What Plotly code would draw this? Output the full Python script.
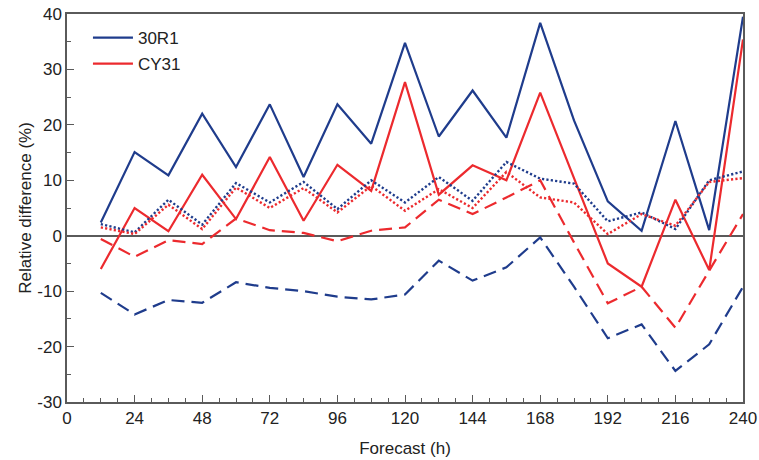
import plotly.graph_objects as go

hours = [12, 24, 36, 48, 60, 72, 84, 96, 108, 120, 132, 144, 156, 168, 180, 192, 204, 216, 228, 240]

r30_solid = [2.4, 15.1, 10.9, 22.0, 12.4, 23.7, 10.6, 23.7, 16.6, 34.8, 17.9, 26.2, 17.7, 38.4, 20.8, 6.2, 0.9, 20.7, 1.0, 39.5]
cy31_solid = [-6.0, 5.0, 0.8, 11.0, 3.0, 14.2, 2.7, 12.8, 8.1, 27.7, 7.4, 12.7, 10.0, 25.8, 10.4, -5.0, -9.2, 6.5, -6.2, 35.4]
r30_dot = [2.1, 0.6, 6.5, 2.0, 9.5, 6.0, 9.7, 4.8, 10.0, 6.0, 10.6, 6.3, 13.3, 10.3, 9.4, 2.6, 4.2, 1.2, 10.0, 11.6]
cy31_dot = [1.5, 0.3, 5.6, 1.2, 8.7, 5.0, 8.6, 4.2, 9.0, 4.5, 8.4, 5.0, 11.5, 6.9, 6.0, 0.3, 3.9, 1.8, 9.7, 10.4]
r30_dash = [-10.3, -14.2, -11.6, -12.1, -8.4, -9.4, -10.0, -11.0, -11.5, -10.6, -4.5, -8.1, -5.7, -0.3, -9.2, -18.5, -16.0, -24.4, -19.6, -9.2]
cy31_dash = [-0.6, -3.8, -0.8, -1.5, 3.1, 1.0, 0.5, -1.0, 0.9, 1.5, 6.5, 3.9, 6.9, 10.0, -1.2, -12.2, -9.2, -16.6, -6.3, 3.9]

x_ticks = [0, 24, 48, 72, 96, 120, 144, 168, 192, 216, 240]
y_ticks = [-30, -20, -10, 0, 10, 20, 30, 40]

BLUE = "#1f3c8c"
RED = "#ec2a2e"
REG = "Liberation Sans, Arial, sans-serif"
DASH = "13px,7px"
DOT = "2.2px,2.2px"

fig = go.Figure()
fig.add_trace(go.Scatter(x=hours, y=r30_solid, mode="lines", name="30R1", legend="legend",
                         line=dict(color=BLUE, width=2.2)))
fig.add_trace(go.Scatter(x=hours, y=cy31_solid, mode="lines", name="CY31", legend="legend2",
                         line=dict(color=RED, width=2.2)))
fig.add_trace(go.Scatter(x=hours, y=r30_dot, mode="lines", showlegend=False,
                         line=dict(color=BLUE, width=2.4, dash=DOT)))
fig.add_trace(go.Scatter(x=hours, y=cy31_dot, mode="lines", showlegend=False,
                         line=dict(color=RED, width=2.4, dash=DOT)))
fig.add_trace(go.Scatter(x=hours, y=r30_dash, mode="lines", showlegend=False,
                         line=dict(color=BLUE, width=2.2, dash=DASH)))
fig.add_trace(go.Scatter(x=hours, y=cy31_dash, mode="lines", showlegend=False,
                         line=dict(color=RED, width=2.2, dash=DASH)))

axis_common = dict(showline=True, mirror=True, linecolor="#5a5a5a", linewidth=1.5,
                   ticks="inside", tickcolor="#5a5a5a", ticklen=7, tickwidth=1.2,
                   showgrid=False, automargin=False, ticklabeloverflow="allow",
                   tickfont=dict(size=17, color="#222", family=REG))

fig.update_xaxes(range=[0, 240], tickvals=x_ticks, ticktext=[str(v) for v in x_ticks],
                 title=dict(text="Forecast (h)", font=dict(size=17, color="#222", family=REG), standoff=15),
                 zeroline=False,
                 minor=dict(dtick=6, tick0=0, ticks="inside", ticklen=4, tickcolor="#5a5a5a", tickwidth=1.2),
                 **axis_common)
fig.update_yaxes(range=[-30, 40], tickvals=y_ticks, ticktext=[str(v) for v in y_ticks],
                 title=dict(text="Relative difference (%)", font=dict(size=17, color="#222", family=REG), standoff=1),
                 zeroline=True, zerolinecolor="#5a5a5a", zerolinewidth=1.5,
                 minor=dict(dtick=5, tick0=0, ticks="inside", ticklen=4, tickcolor="#5a5a5a", tickwidth=1.2),
                 **axis_common)

leg_common = dict(xanchor="left", yanchor="top", bgcolor="rgba(0,0,0,0)",
                  font=dict(size=17, family=REG, color="#222"), itemwidth=40)

fig.update_layout(
    width=759, height=460,
    margin=dict(l=67, r=16, t=14, b=58),
    paper_bgcolor="white", plot_bgcolor="white",
    font=dict(family=REG, size=17, color="#222"),
    legend=dict(x=0.031, y=0.9845, **leg_common),
    legend2=dict(x=0.031, y=0.9175, **leg_common),
)

fig.write_html("out.html", config={"displayModeBar": False},
               post_script="document.body.style.margin='0';")
